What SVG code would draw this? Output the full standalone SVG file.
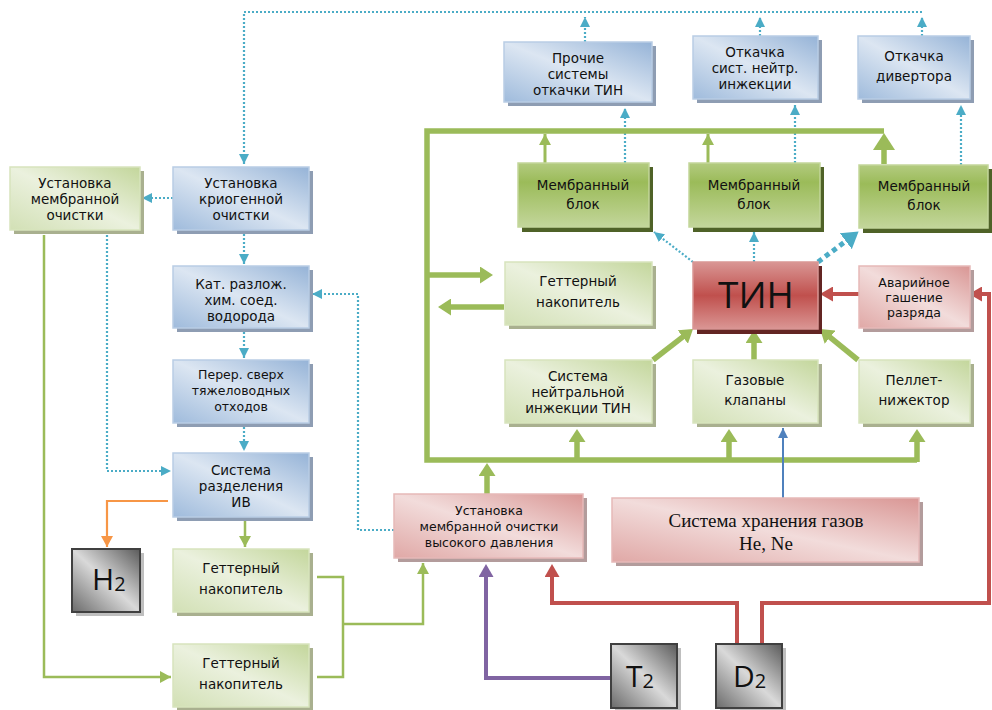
<svg xmlns="http://www.w3.org/2000/svg" width="992" height="710" viewBox="0 0 992 710">
<style>
.t{font-family:"DejaVu Sans","Noto Sans",sans-serif;font-size:13.5px;fill:#111;text-anchor:middle}
.s13{font-size:12.5px}
.big{font-family:"Open Sans","Noto Sans",sans-serif;font-size:37px}
.ser{font-family:"Liberation Serif","Times New Roman",serif;font-size:19px}
.gas{font-family:"Open Sans","Noto Sans",sans-serif;font-size:30px;fill:#111}
.dot{fill:none;stroke:#4bacc6;stroke-width:2.2;stroke-dasharray:2 2}
.dotb{fill:none;stroke:#4bacc6;stroke-width:5;stroke-dasharray:5 4}
.g{fill:none;stroke:#9bbb59;stroke-width:2.5}
.gt{fill:none;stroke:#9bbb59;stroke-width:3}
.gb{fill:none;stroke:#9bbb59;stroke-width:5.5}
.r{fill:none;stroke:#c0504d;stroke-width:4}
.p{fill:none;stroke:#8064a2;stroke-width:4}
.o{fill:none;stroke:#f79646;stroke-width:2.2}
.b{fill:none;stroke:#4f81bd;stroke-width:2}
.blue{fill:url(#gBlue);stroke:#b9cde5;stroke-width:1.5}
.grl{fill:url(#gGreenL);stroke:#d7e4bd;stroke-width:1.5}
.grd{fill:url(#gGreenD);stroke:#c3d69b;stroke-width:1.5}
.pink{fill:url(#gPink);stroke:#e6b9b8;stroke-width:1.5}
.red{fill:url(#gRed);stroke:#d99694;stroke-width:1.5}
.gray{fill:url(#gGray);stroke:#404040;stroke-width:2}
.shb{fill:#8e9db3}
.shg{fill:#a9b08f}
.shd{fill:#4f6228}
.shp{fill:#b39c9c}
.shr{fill:#632523}
.shk{fill:#bfbfbf}
</style>
<defs>
<linearGradient id="gBlue" x1="1" y1="0" x2="0" y2="1">
<stop offset="0" stop-color="#95b3d7"/><stop offset="0.5" stop-color="#dce6f2"/><stop offset="1" stop-color="#9fbbdc"/>
</linearGradient>
<linearGradient id="gGreenL" x1="1" y1="0" x2="0" y2="1">
<stop offset="0" stop-color="#c3d69b"/><stop offset="0.5" stop-color="#ebf1de"/><stop offset="1" stop-color="#d2e0b5"/>
</linearGradient>
<linearGradient id="gGreenD" x1="0" y1="0" x2="0" y2="1">
<stop offset="0" stop-color="#b3cb80"/><stop offset="0.3" stop-color="#9bbb59"/><stop offset="1" stop-color="#c3d69b"/>
</linearGradient>
<linearGradient id="gPink" x1="1" y1="0" x2="0" y2="1">
<stop offset="0" stop-color="#d99694"/><stop offset="0.5" stop-color="#f2dcdb"/><stop offset="1" stop-color="#e0a8a6"/>
</linearGradient>
<linearGradient id="gRed" x1="0" y1="0" x2="0" y2="1">
<stop offset="0" stop-color="#d99694"/><stop offset="0.5" stop-color="#c0504d"/><stop offset="1" stop-color="#da9694"/>
</linearGradient>
<linearGradient id="gGray" x1="1" y1="0" x2="0" y2="1">
<stop offset="0" stop-color="#5a5a5a"/><stop offset="0.5" stop-color="#d9d9d9"/><stop offset="1" stop-color="#6a6a6a"/>
</linearGradient>
<marker id="mDot" viewBox="0 0 10 10" refX="10" refY="5" markerWidth="10" markerHeight="10" markerUnits="userSpaceOnUse" orient="auto"><path d="M0,0 L10,5 L0,10 z" fill="#4bacc6"/></marker>
<marker id="mDotB" viewBox="0 0 16 20" refX="6" refY="10" markerWidth="16" markerHeight="20" markerUnits="userSpaceOnUse" orient="auto"><path d="M0,0 L16,10 L0,20 z" fill="#4bacc6"/></marker>
<marker id="mG" viewBox="0 0 11 12" refX="11" refY="6" markerWidth="11" markerHeight="12" markerUnits="userSpaceOnUse" orient="auto"><path d="M0,0 L11,6 L0,12 z" fill="#9bbb59"/></marker>
<marker id="mGB" viewBox="0 0 13 17" refX="5" refY="8.5" markerWidth="13" markerHeight="17" markerUnits="userSpaceOnUse" orient="auto"><path d="M0,0 L13,8.5 L0,17 z" fill="#9bbb59"/></marker>
<marker id="mGBB" viewBox="0 0 17 22" refX="6" refY="11" markerWidth="17" markerHeight="22" markerUnits="userSpaceOnUse" orient="auto"><path d="M0,0 L17,11 L0,22 z" fill="#9bbb59"/></marker>
<marker id="mR" viewBox="0 0 13 15" refX="5" refY="7.5" markerWidth="13" markerHeight="15" markerUnits="userSpaceOnUse" orient="auto"><path d="M0,0 L13,7.5 L0,15 z" fill="#c0504d"/></marker>
<marker id="mP" viewBox="0 0 13 15" refX="5" refY="7.5" markerWidth="13" markerHeight="15" markerUnits="userSpaceOnUse" orient="auto"><path d="M0,0 L13,7.5 L0,15 z" fill="#8064a2"/></marker>
<marker id="mO" viewBox="0 0 11 12" refX="11" refY="6" markerWidth="11" markerHeight="12" markerUnits="userSpaceOnUse" orient="auto"><path d="M0,0 L11,6 L0,12 z" fill="#f79646"/></marker>
<marker id="mB" viewBox="0 0 10 10" refX="10" refY="5" markerWidth="10" markerHeight="10" markerUnits="userSpaceOnUse" orient="auto"><path d="M0,0 L10,5 L0,10 z" fill="#4f81bd"/></marker>
</defs>

<g id="connectors">
<path class="dot" d="M922,12 H244 V164" marker-end="url(#mDot)"/>
<path class="dot" d="M585,42 V17" marker-end="url(#mDot)"/>
<path class="dot" d="M760,36 V17" marker-end="url(#mDot)"/>
<path class="dot" d="M922,36 V17" marker-end="url(#mDot)"/>
<path class="dot" d="M625,163 V108" marker-end="url(#mDot)"/>
<path class="dot" d="M795,163 V105" marker-end="url(#mDot)"/>
<path class="dot" d="M961,165 V105" marker-end="url(#mDot)"/>
<path class="dot" d="M693,262 L654,232" marker-end="url(#mDot)"/>
<path class="dot" d="M754,262 V232" marker-end="url(#mDot)"/>
<path class="dotb" d="M818,262 L850.6,237.6" marker-end="url(#mDotB)"/>
<path class="dot" d="M173,198 H142" marker-end="url(#mDot)"/>
<path class="dot" d="M244,234 V264" marker-end="url(#mDot)"/>
<path class="dot" d="M244,332 V358" marker-end="url(#mDot)"/>
<path class="dot" d="M244,427 V451" marker-end="url(#mDot)"/>
<path class="dot" d="M107,235 V471 H171" marker-end="url(#mDot)"/>
<path class="dot" d="M394,530 H358 V294 H312" marker-end="url(#mDot)"/>
<path class="o" d="M168,501 H107 V547" marker-end="url(#mO)"/>
<path class="g" d="M245,521 V547" marker-end="url(#mG)"/>
<path class="g" d="M44,235 V677 H171" marker-end="url(#mG)"/>
<path class="g" d="M317,577 H343 V677 H317"/>
<path class="g" d="M343,624 H423 V563" marker-end="url(#mG)"/>
<path class="gb" d="M884,131 H427 V460 H917"/>
<path class="gb" d="M577,460 V437" marker-end="url(#mGB)"/>
<path class="gb" d="M729,460 V437" marker-end="url(#mGB)"/>
<path class="gb" d="M917,462 V437" marker-end="url(#mGB)"/>
<path class="gt" d="M545,163 V134" marker-end="url(#mG)"/>
<path class="gt" d="M708,163 V134" marker-end="url(#mG)"/>
<path class="gb" d="M884,164 V144" marker-end="url(#mGBB)"/>
<path class="gb" d="M427,275 H485" marker-end="url(#mGB)"/>
<path class="gb" d="M504,307 H446" marker-end="url(#mGB)"/>
<path class="gb" d="M487,494 V471" marker-end="url(#mGB)"/>
<path class="gb" d="M653,360 L686.7,333.9" marker-end="url(#mGB)"/>
<path class="gb" d="M754,360 V338" marker-end="url(#mGB)"/>
<path class="gb" d="M858,360 L826.2,334.1" marker-end="url(#mGB)"/>
<path class="r" d="M737,644 V603 H552 V572" marker-end="url(#mR)"/>
<path class="r" d="M762,644 V603 H989 V294 H977" marker-end="url(#mR)"/>
<path class="r" d="M859,294 H828" marker-end="url(#mR)"/>
<path class="p" d="M611,678 H486 V572" marker-end="url(#mP)"/>
<path class="b" d="M783,498 V428" marker-end="url(#mB)"/>
</g>

<g id="n-prochie">
<rect class="shb" x="508" y="46" width="148" height="60"/>
<rect class="blue" x="504" y="42" width="148" height="60"/>
<text class="t" x="578" y="63">Прочие</text>
<text class="t" x="578" y="79">системы</text>
<text class="t" x="578" y="95">откачки ТИН</text>
</g>
<g id="n-otk-nejtr">
<rect class="shb" x="697" y="40" width="125" height="63"/>
<rect class="blue" x="693" y="36" width="125" height="63"/>
<text class="t" x="755" y="57">Откачка</text>
<text class="t" x="755" y="73">сист. нейтр.</text>
<text class="t" x="755" y="89">инжекции</text>
</g>
<g id="n-otk-div">
<rect class="shb" x="862" y="40" width="112" height="63"/>
<rect class="blue" x="858" y="36" width="112" height="63"/>
<text class="t" x="914" y="61">Откачка</text>
<text class="t" x="914" y="81">дивертора</text>
</g>

<g id="n-mb1">
<rect class="shd" x="522" y="167" width="131" height="65"/>
<rect class="grd" x="518" y="163" width="131" height="64"/>
<text class="t" x="583" y="190">Мембранный</text>
<text class="t" x="583" y="209">блок</text>
</g>
<g id="n-mb2">
<rect class="shd" x="693" y="167" width="131" height="65"/>
<rect class="grd" x="689" y="163" width="131" height="64"/>
<text class="t" x="754" y="190">Мембранный</text>
<text class="t" x="754" y="209">блок</text>
</g>
<g id="n-mb3">
<rect class="shd" x="863" y="169" width="129" height="64"/>
<rect class="grd" x="859" y="165" width="129" height="63"/>
<text class="t" x="924" y="191">Мембранный</text>
<text class="t" x="924" y="210">блок</text>
</g>

<g id="n-getter-c">
<rect class="shg" x="509" y="266" width="147" height="63"/>
<rect class="grl" x="505" y="262" width="147" height="63"/>
<text class="t" x="578" y="286">Геттерный</text>
<text class="t" x="578" y="307">накопитель</text>
</g>
<g id="n-tin">
<rect class="shr" x="697" y="266" width="125" height="68"/>
<rect class="red" x="693" y="262" width="125" height="67"/>
<text class="t big" x="756" y="308">ТИН</text>
</g>
<g id="n-avar">
<rect class="shp" x="863" y="270" width="111" height="62"/>
<rect class="pink" x="859" y="266" width="111" height="62"/>
<text class="t s13" x="914" y="287">Аварийное</text>
<text class="t s13" x="914" y="302">гашение</text>
<text class="t s13" x="914" y="317">разряда</text>
</g>
<g id="n-nbi">
<rect class="shg" x="509" y="364" width="147" height="63"/>
<rect class="grl" x="505" y="360" width="147" height="63"/>
<text class="t" x="578" y="381">Система</text>
<text class="t" x="578" y="397">нейтральной</text>
<text class="t" x="578" y="413">инжекции ТИН</text>
</g>
<g id="n-gas-valves">
<rect class="shg" x="697" y="364" width="125" height="63"/>
<rect class="grl" x="693" y="360" width="125" height="63"/>
<text class="t" x="755" y="385">Газовые</text>
<text class="t" x="755" y="405">клапаны</text>
</g>
<g id="n-pellet">
<rect class="shg" x="863" y="364" width="111" height="63"/>
<rect class="grl" x="859" y="360" width="111" height="63"/>
<text class="t" x="914" y="385">Пеллет-</text>
<text class="t" x="914" y="405">нижектор</text>
</g>

<g id="n-hp">
<rect class="shp" x="398" y="498" width="189" height="64"/>
<rect class="pink" x="394" y="494" width="189" height="64"/>
<text class="t s13" x="489" y="515">Установка</text>
<text class="t s13" x="489" y="531">мембранной очистки</text>
<text class="t s13" x="489" y="547">высокого давления</text>
</g>
<g id="n-storage">
<rect class="shp" x="616" y="502" width="307" height="64"/>
<rect class="pink" x="612" y="498" width="307" height="64"/>
<text class="t ser" x="766" y="527">Система хранения газов</text>
<text class="t ser" x="766" y="550">He, Ne</text>
</g>
<g id="n-t2">
<rect class="shk" x="615" y="648" width="66" height="64"/>
<rect class="gray" x="611" y="644" width="66" height="64"/>
<text class="gas" x="626" y="687">T<tspan font-size="20" dy="1">2</tspan></text>
</g>
<g id="n-d2">
<rect class="shk" x="720" y="648" width="66" height="64"/>
<rect class="gray" x="716" y="644" width="66" height="64"/>
<text class="gas" x="733" y="687">D<tspan font-size="20" dy="1">2</tspan></text>
</g>

<g id="n-mem-left">
<rect class="shg" x="14" y="171" width="130" height="63"/>
<rect class="grl" x="10" y="167" width="130" height="63"/>
<text class="t" x="75" y="188">Установка</text>
<text class="t" x="75" y="204">мембранной</text>
<text class="t" x="75" y="220">очистки</text>
</g>
<g id="n-cryo">
<rect class="shb" x="177" y="171" width="136" height="63"/>
<rect class="blue" x="173" y="167" width="136" height="63"/>
<text class="t" x="241" y="188">Установка</text>
<text class="t" x="241" y="204">криогенной</text>
<text class="t" x="241" y="220">очистки</text>
</g>
<g id="n-kat">
<rect class="shb" x="177" y="270" width="136" height="62"/>
<rect class="blue" x="173" y="266" width="136" height="62"/>
<text class="t" x="241" y="289">Кат. разлож.</text>
<text class="t" x="241" y="305">хим. соед.</text>
<text class="t" x="241" y="321">водорода</text>
</g>
<g id="n-perer">
<rect class="shb" x="177" y="364" width="136" height="63"/>
<rect class="blue" x="173" y="360" width="136" height="63"/>
<text class="t s13" x="241" y="379">Перер. сверх</text>
<text class="t s13" x="241" y="395">тяжеловодных</text>
<text class="t s13" x="241" y="411">отходов</text>
</g>
<g id="n-sep">
<rect class="shb" x="177" y="457" width="136" height="64"/>
<rect class="blue" x="173" y="453" width="136" height="64"/>
<text class="t" x="241" y="475">Система</text>
<text class="t" x="241" y="491">разделения</text>
<text class="t" x="241" y="507">ИВ</text>
</g>
<g id="n-h2">
<rect class="shk" x="76" y="553" width="68" height="63"/>
<rect class="gray" x="72" y="549" width="68" height="63"/>
<text class="gas" x="92" y="590">H<tspan font-size="20" dy="1">2</tspan></text>
</g>
<g id="n-getter1">
<rect class="shg" x="177" y="553" width="136" height="63"/>
<rect class="grl" x="173" y="549" width="136" height="63"/>
<text class="t" x="241" y="573">Геттерный</text>
<text class="t" x="241" y="594">накопитель</text>
</g>
<g id="n-getter2">
<rect class="shg" x="177" y="648" width="136" height="63"/>
<rect class="grl" x="173" y="644" width="136" height="63"/>
<text class="t" x="241" y="668">Геттерный</text>
<text class="t" x="241" y="689">накопитель</text>
</g>
</svg>
